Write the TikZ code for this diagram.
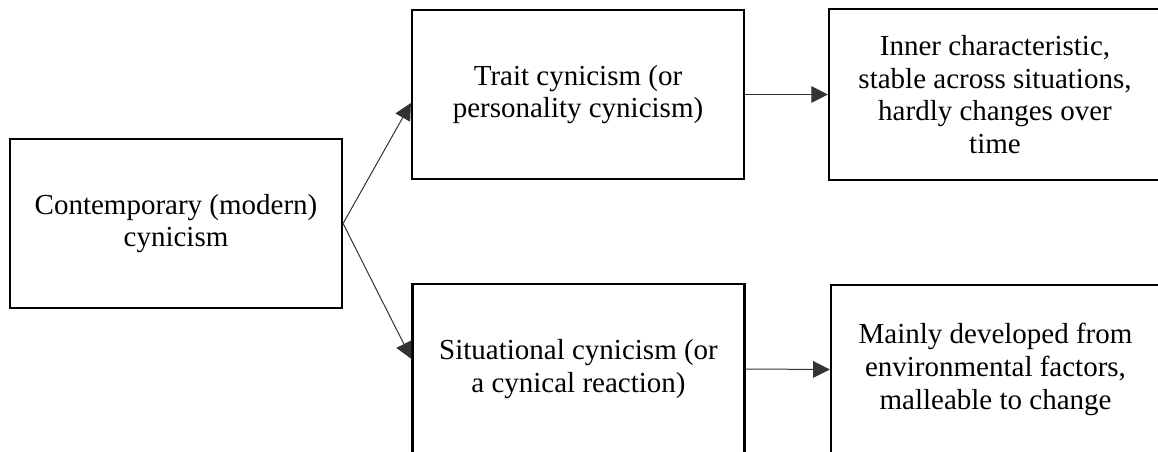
\documentclass[tikz,border=0pt]{standalone}
\usepackage{fontspec}
\setmainfont{Liberation Serif}
\usetikzlibrary{arrows.meta}
\begin{document}
\begin{tikzpicture}[x=0.75pt,y=-0.75pt,
  box/.style={draw=black,line width=1.6pt,rectangle,minimum width=249pt,minimum height=127pt,
    align=center,inner sep=0pt,font=\fontsize{21.75pt}{24.5pt}\selectfont},
  conn/.style={draw=black!80,line width=0.75pt,-{Triangle[length=12.5pt,width=12.5pt]}}]
\useasboundingbox (0,0) rectangle (1158,452);
\node[box] (L) at (176,223.5) {Contemporary (modern)\\cynicism};
\node[box] (TM) at (578,94.5) {Trait cynicism (or\\personality cynicism)};
\node[box,minimum width=249pt,minimum height=128pt] (TR) at (995,94.5) {Inner characteristic,\\stable across situations,\\hardly changes over\\time};
\node[box] (BM) at (578.5,369) {Situational cynicism (or\\a cynical reaction)};
\node[box,minimum width=247pt] (BR) at (995.5,369.5) {Mainly developed from\\environmental factors,\\malleable to change};
\draw[conn] (L.east) -- ([yshift=-6.4pt]TM.west);
\draw[conn] (L.east) -- ([yshift=7.5pt]BM.west);
\draw[conn] (TM.east) -- (TR.west);
\draw[conn] (BM.east) -- (BR.west);
\end{tikzpicture}
\end{document}
